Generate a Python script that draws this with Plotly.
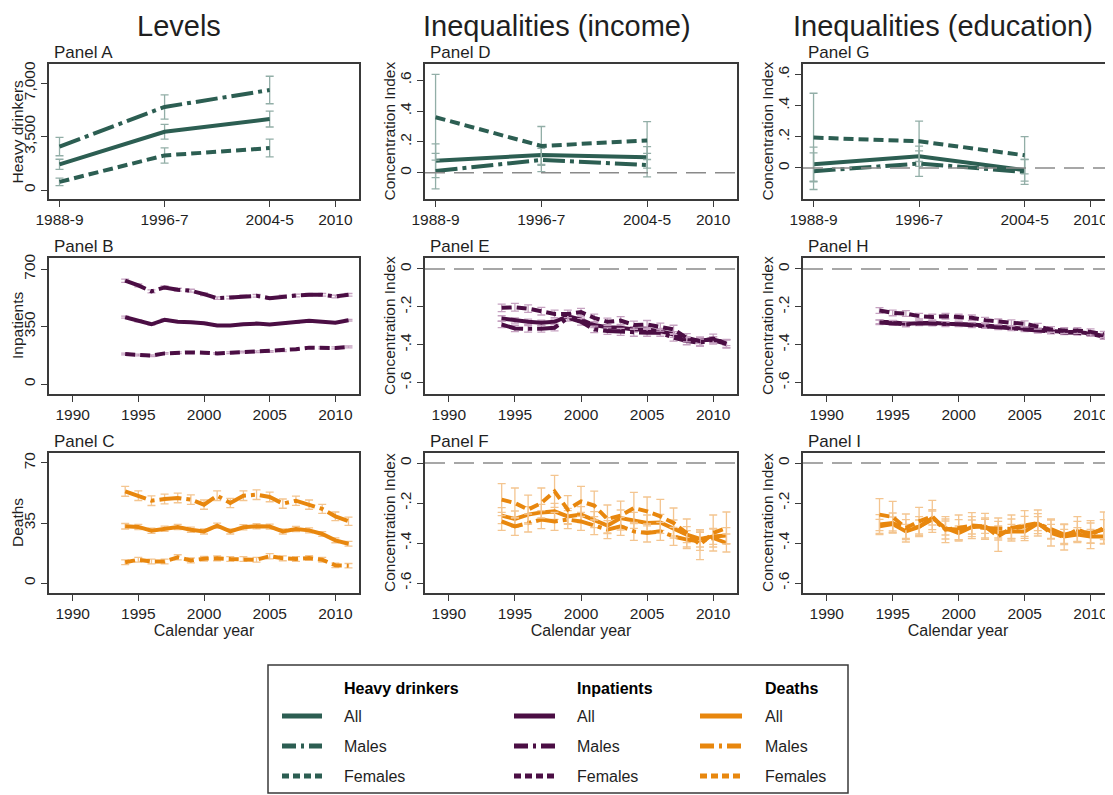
import plotly.graph_objects as go
from plotly.subplots import make_subplots

# ---------------- data ----------------
WAVES = [1989, 1997, 2005]
YEARS = [1994, 1995, 1996, 1997, 1998, 1999, 2000, 2001, 2002,
         2003, 2004, 2005, 2006, 2007, 2008, 2009, 2010, 2011]

WAVE_TICKS = [1989, 1997, 2005, 2010]
WAVE_TEXT = ["1988-9", "1996-7", "2004-5", "2010"]
YEAR_TICKS = [1990, 1995, 2000, 2005, 2010]

COL_TITLES = ["Levels", "Inequalities (income)", "Inequalities (education)"]
MEASURES = ["Heavy drinkers", "Inpatients", "Deaths"]
GROUPS = ["All", "Males", "Females"]

# Panel A - heavy drinkers (levels)
a_all = [1690, 3820, 4650]
a_all_err = [330, 480, 520]
a_male = [2850, 5440, 6550]
a_male_err = [600, 790, 900]
a_female = [540, 2270, 2750]
a_female_err = [240, 500, 580]

# Panel B - inpatients (levels)
b_all = [407, 385, 364, 391, 380, 376, 370, 356, 356,
         364, 368, 362, 368, 374, 385, 380, 374, 389]
b_all_err = [6, 6, 5, 6, 5, 5, 5, 5, 5, 5, 5, 5, 5, 5, 5, 5, 5, 5]
b_male = [629, 600, 564, 588, 574, 568, 547, 523, 527,
          535, 537, 523, 533, 539, 543, 543, 533, 543]
b_male_err = [10, 9, 9, 9, 9, 9, 8, 8, 8, 8, 8, 8, 8, 8, 8, 8, 8, 8]
b_female = [183, 177, 173, 187, 191, 193, 191, 187, 191,
            195, 197, 199, 203, 212, 222, 220, 220, 226]
b_female_err = [5, 5, 5, 5, 5, 5, 5, 5, 5, 5, 5, 5, 5, 5, 6, 6, 6, 6]

# Panel C - deaths (levels)
c_all = [33.1, 32.7, 30.5, 31.7, 32.7, 31.1, 30.1, 33.4, 30.1,
         32.5, 33.1, 32.9, 30.1, 31.5, 30.7, 28.6, 24.9, 22.9]
c_all_err = [1.6, 1.5, 1.5, 1.5, 1.5, 1.5, 1.5, 1.5, 1.5,
             1.5, 1.5, 1.5, 1.5, 1.5, 1.5, 1.4, 1.4, 1.4]
c_male = [53.5, 50.9, 48.0, 49.0, 49.6, 48.6, 45.7, 50.9, 46.7,
          50.9, 51.5, 50.2, 46.3, 48.0, 45.7, 43.2, 38.9, 36.0]
c_male_err = [2.9, 2.8, 2.8, 2.8, 2.8, 2.8, 2.7, 2.8, 2.7,
              2.8, 2.8, 2.8, 2.7, 2.7, 2.7, 2.6, 2.5, 2.4]
c_female = [12.1, 13.6, 12.6, 12.6, 15.0, 13.2, 14.2, 14.4, 14.0,
            14.0, 13.6, 15.6, 14.4, 14.0, 14.6, 13.6, 10.3, 10.1]
c_female_err = [1.4, 1.4, 1.4, 1.4, 1.5, 1.4, 1.4, 1.4, 1.4,
                1.4, 1.4, 1.5, 1.4, 1.4, 1.4, 1.4, 1.3, 1.3]

# Panel D - heavy drinkers, income concentration index
d_all = [0.078, 0.115, 0.100]
d_all_err = [0.109, 0.060, 0.070]
d_male = [0.011, 0.083, 0.050]
d_male_err = [0.115, 0.076, 0.076]
d_female = [0.360, 0.174, 0.209]
d_female_err = [0.278, 0.126, 0.123]

# Panel E - inpatients, income concentration index
e_all = [-0.261, -0.272, -0.279, -0.284, -0.279, -0.249, -0.267, -0.296, -0.307,
         -0.310, -0.319, -0.319, -0.328, -0.346, -0.372, -0.377, -0.372, -0.389]
e_all_err = [0.014, 0.014, 0.014, 0.014, 0.014, 0.014, 0.014, 0.014, 0.014,
             0.014, 0.014, 0.014, 0.014, 0.015, 0.015, 0.015, 0.015, 0.016]
e_male = [-0.293, -0.314, -0.316, -0.316, -0.310, -0.258, -0.279, -0.319, -0.328,
          -0.332, -0.337, -0.337, -0.337, -0.363, -0.381, -0.389, -0.377, -0.395]
e_male_err = [0.017, 0.017, 0.017, 0.017, 0.017, 0.017, 0.017, 0.017, 0.017,
              0.018, 0.018, 0.018, 0.018, 0.018, 0.019, 0.019, 0.019, 0.020]
e_female = [-0.205, -0.202, -0.209, -0.223, -0.237, -0.237, -0.228, -0.258, -0.279,
            -0.272, -0.296, -0.293, -0.307, -0.319, -0.363, -0.381, -0.367, -0.395]
e_female_err = [0.020, 0.020, 0.020, 0.020, 0.020, 0.020, 0.020, 0.020, 0.020,
                0.021, 0.021, 0.021, 0.021, 0.022, 0.022, 0.022, 0.023, 0.023]

# Panel F - deaths, income concentration index
f_all = [-0.263, -0.280, -0.258, -0.247, -0.242, -0.267, -0.258, -0.283, -0.313,
         -0.275, -0.287, -0.300, -0.297, -0.325, -0.358, -0.380, -0.367, -0.363]
f_all_err = [0.040, 0.040, 0.040, 0.040, 0.040, 0.040, 0.040, 0.040, 0.040,
             0.040, 0.040, 0.040, 0.040, 0.040, 0.040, 0.040, 0.040, 0.040]
f_male = [-0.292, -0.317, -0.300, -0.283, -0.292, -0.283, -0.292, -0.313, -0.333,
          -0.317, -0.342, -0.350, -0.342, -0.367, -0.383, -0.392, -0.375, -0.400]
f_male_err = [0.045, 0.045, 0.045, 0.045, 0.045, 0.045, 0.045, 0.045, 0.045,
              0.045, 0.045, 0.045, 0.045, 0.045, 0.045, 0.045, 0.045, 0.045]
f_female = [-0.183, -0.200, -0.233, -0.200, -0.142, -0.233, -0.192, -0.213, -0.280,
            -0.263, -0.225, -0.242, -0.267, -0.300, -0.350, -0.408, -0.350, -0.325]
f_female_err = [0.080, 0.075, 0.072, 0.075, 0.080, 0.070, 0.075, 0.072, 0.070,
                0.072, 0.078, 0.072, 0.085, 0.075, 0.070, 0.075, 0.090, 0.080]

# Panel G - heavy drinkers, education concentration index
g_all = [0.024, 0.075, -0.015]
g_all_err = [0.110, 0.065, 0.070]
g_male = [-0.021, 0.028, -0.026]
g_male_err = [0.118, 0.082, 0.080]
g_female = [0.195, 0.171, 0.081]
g_female_err = [0.285, 0.130, 0.120]

# Panel H - inpatients, education concentration index
h_all = [-0.279, -0.281, -0.289, -0.284, -0.284, -0.289, -0.289, -0.293, -0.298,
         -0.305, -0.310, -0.316, -0.323, -0.328, -0.332, -0.333, -0.340, -0.354]
h_all_err = [0.010, 0.010, 0.010, 0.010, 0.010, 0.010, 0.010, 0.010, 0.010,
             0.010, 0.010, 0.010, 0.010, 0.010, 0.010, 0.010, 0.010, 0.011]
h_male = [-0.282, -0.285, -0.293, -0.287, -0.288, -0.292, -0.292, -0.297, -0.301,
          -0.308, -0.313, -0.319, -0.326, -0.331, -0.335, -0.337, -0.343, -0.358]
h_male_err = [0.012, 0.012, 0.012, 0.012, 0.012, 0.012, 0.012, 0.012, 0.012,
              0.012, 0.012, 0.012, 0.012, 0.012, 0.012, 0.012, 0.013, 0.013]
h_female = [-0.219, -0.232, -0.235, -0.249, -0.254, -0.249, -0.254, -0.258, -0.270,
            -0.279, -0.284, -0.289, -0.302, -0.319, -0.325, -0.325, -0.332, -0.346]
h_female_err = [0.015, 0.015, 0.015, 0.015, 0.015, 0.015, 0.015, 0.015, 0.015,
                0.015, 0.015, 0.015, 0.015, 0.015, 0.015, 0.015, 0.016, 0.016]

# Panel I - deaths, education concentration index
i_all = [-0.317, -0.305, -0.342, -0.320, -0.275, -0.325, -0.350, -0.320, -0.317,
         -0.350, -0.342, -0.342, -0.303, -0.342, -0.367, -0.358, -0.367, -0.367]
i_all_err = [0.035, 0.035, 0.035, 0.035, 0.035, 0.035, 0.035, 0.035, 0.035,
             0.035, 0.035, 0.035, 0.035, 0.035, 0.035, 0.035, 0.035, 0.035]
i_male = [-0.308, -0.300, -0.333, -0.318, -0.283, -0.330, -0.333, -0.318, -0.325,
          -0.325, -0.330, -0.317, -0.303, -0.330, -0.358, -0.342, -0.350, -0.333]
i_male_err = [0.050, 0.050, 0.050, 0.050, 0.050, 0.050, 0.050, 0.050, 0.050,
              0.050, 0.050, 0.050, 0.050, 0.050, 0.050, 0.050, 0.050, 0.050]
i_female = [-0.258, -0.270, -0.325, -0.292, -0.267, -0.333, -0.325, -0.313, -0.317,
            -0.367, -0.325, -0.313, -0.300, -0.350, -0.370, -0.333, -0.358, -0.325]
i_female_err = [0.080, 0.078, 0.070, 0.070, 0.080, 0.065, 0.065, 0.065, 0.065,
                0.075, 0.065, 0.075, 0.065, 0.065, 0.065, 0.065, 0.070, 0.080]

# ---------------- styling ----------------
# the page body keeps its default 8px margin, so the figure is drawn 8px in
PAGE_W, PAGE_H, OFF = 1113, 795, 8
W, H = PAGE_W - OFF, PAGE_H - OFF
FONT = "Liberation Sans, Arial, sans-serif"
TXT = "#1f1f1f"
COLORS = {"Heavy drinkers": "#2c5e52", "Inpatients": "#4b0e44", "Deaths": "#e8870e"}
CI_COLORS = {"Heavy drinkers": "#92aea7", "Inpatients": "#c6a2c1", "Deaths": "#f4c590"}
DASH = {"All": "solid", "Males": "22px,5px,4px,5px", "Females": "10px,5px"}
LEG_DASH = {"All": "solid", "Males": "14px,5px,3px,5px", "Females": "7px,4px"}

PANEL_DATA = {
    (1, 1): ("Panel A", WAVES, [(a_all, a_all_err), (a_male, a_male_err), (a_female, a_female_err)]),
    (2, 1): ("Panel B", YEARS, [(b_all, b_all_err), (b_male, b_male_err), (b_female, b_female_err)]),
    (3, 1): ("Panel C", YEARS, [(c_all, c_all_err), (c_male, c_male_err), (c_female, c_female_err)]),
    (1, 2): ("Panel D", WAVES, [(d_all, d_all_err), (d_male, d_male_err), (d_female, d_female_err)]),
    (2, 2): ("Panel E", YEARS, [(e_all, e_all_err), (e_male, e_male_err), (e_female, e_female_err)]),
    (3, 2): ("Panel F", YEARS, [(f_all, f_all_err), (f_male, f_male_err), (f_female, f_female_err)]),
    (1, 3): ("Panel G", WAVES, [(g_all, g_all_err), (g_male, g_male_err), (g_female, g_female_err)]),
    (2, 3): ("Panel H", YEARS, [(h_all, h_all_err), (h_male, h_male_err), (h_female, h_female_err)]),
    (3, 3): ("Panel I", YEARS, [(i_all, i_all_err), (i_male, i_male_err), (i_female, i_female_err)]),
}

Y_RANGES = {
    (1, 1): [-580, 8250], (2, 1): [-60, 767], (3, 1): [-5.8, 75.8],
    (1, 2): [-0.17, 0.705], (2, 2): [-0.66, 0.058], (3, 2): [-0.65, 0.05],
    (1, 3): [-0.2, 0.668], (2, 3): [-0.66, 0.058], (3, 3): [-0.65, 0.05],
}
Y_TICKS = {
    (1, 1): ([0, 3500, 7000], ["0", "3,500", "7,000"]),
    (2, 1): ([0, 350, 700], ["0", "350", "700"]),
    (3, 1): ([0, 35, 70], ["0", "35", "70"]),
}
POS_CI = ([0, 0.2, 0.4, 0.6], ["0", ".2", ".4", ".6"])
NEG_CI = ([-0.6, -0.4, -0.2, 0], ["-.6", "-.4", "-.2", "0"])

# plot-area boxes, in page pixels
COL_PX = {1: (49, 359), 2: (425, 737), 3: (803, 1113)}
ROW_PX = {1: (64, 199), 2: (258, 394), 3: (453, 593)}
YTITLE_X = {1: 17, 2: 389, 3: 767}


def px(x):
    return (x - OFF) / W


def py(y):
    return 1 - (y - OFF) / H


fig = make_subplots(rows=3, cols=3)

for (r, c), (label, xs, series) in PANEL_DATA.items():
    measure = MEASURES[r - 1]
    for grp, (vals, err) in zip(GROUPS, series):
        fig.add_trace(go.Scatter(
            x=xs, y=vals, mode="lines", name=grp, showlegend=False,
            line=dict(color=COLORS[measure], width=4, dash=DASH[grp]),
            error_y=dict(type="data", array=err, color=CI_COLORS[measure],
                         thickness=1.3, width=4),
        ), row=r, col=c)
    if c > 1:
        fig.add_hline(y=0, row=r, col=c,
                      line=dict(color="#8a8a8a", width=1.5, dash="20px,9px"))

    x0, x1 = COL_PX[c]
    y0, y1 = ROW_PX[r]
    xr = [1988.2, 2011.8] if c < 3 else [1988.2, 2011.7]
    if xs is WAVES:
        xtv, xtt = WAVE_TICKS, WAVE_TEXT
    else:
        xtv, xtt = YEAR_TICKS, [str(v) for v in YEAR_TICKS]
    fig.update_xaxes(
        domain=[px(x0), min(px(x1), 1.0)], range=xr, tickvals=xtv, ticktext=xtt,
        automargin=False,
        showgrid=False, zeroline=False, showline=True, mirror=True,
        linecolor="#3a3a3a", linewidth=1.5, ticks="outside", ticklen=6,
        tickcolor="#3a3a3a", tickwidth=1.3,
        tickfont=dict(family=FONT, size=15.5, color=TXT),
        title=dict(text="Calendar year" if r == 3 else None,
                   font=dict(family=FONT, size=16, color=TXT), standoff=2),
        row=r, col=c)

    if c == 1:
        ytv, ytt = Y_TICKS[(r, c)]
        ytitle = measure
    else:
        ytv, ytt = POS_CI if r == 1 else NEG_CI
        ytitle = "Concentration Index"
    fig.update_yaxes(
        domain=[py(y1), py(y0)], range=Y_RANGES[(r, c)], tickvals=ytv, ticktext=ytt,
        automargin=False,
        showgrid=False, zeroline=False, showline=True, mirror=True,
        linecolor="#3a3a3a", linewidth=1.5, ticks="outside", ticklen=6,
        tickcolor="#3a3a3a", tickwidth=1.3, tickangle=-90,
        tickfont=dict(family=FONT, size=15.5, color=TXT),
        row=r, col=c)

    # y-axis title placed by hand so every column sits like the reference
    fig.add_annotation(text=ytitle, x=px(YTITLE_X[c]), y=py((y0 + y1) / 2),
                       xref="paper", yref="paper", textangle=-90,
                       xanchor="center", yanchor="middle", showarrow=False,
                       font=dict(family=FONT, size=15.5, color=TXT))

    fig.add_annotation(text=label, x=px(x0 + 3), y=py(y0 - 12), xref="paper", yref="paper",
                       xanchor="left", yanchor="middle", showarrow=False,
                       font=dict(family=FONT, size=17, color=TXT))

# column titles
for title, cx in zip(COL_TITLES, [179, 557, 943]):
    fig.add_annotation(text=title, x=px(cx), y=1.0, xref="paper", yref="paper",
                       xanchor="center", yanchor="top", showarrow=False,
                       font=dict(family=FONT, size=29, color=TXT))

# legend box (drawn by hand to mimic the three-column Stata legend)
shapes = [dict(type="rect", xref="paper", yref="paper",
               x0=px(268), x1=px(848), y0=py(793), y1=py(665),
               line=dict(color="#3a3a3a", width=1.5), fillcolor="rgba(0,0,0,0)")]
leg_cols = [(282, 322, 342), (514, 555, 575), (700, 742, 763)]
leg_rows = [716, 746, 776]
for measure, (sx0, sx1, tx) in zip(MEASURES, leg_cols):
    fig.add_annotation(text="<b>" + measure + "</b>", x=px(tx), y=py(688),
                       xref="paper", yref="paper", xanchor="left", yanchor="middle",
                       showarrow=False, font=dict(family=FONT, size=16, color="#000"))
    for grp, ly in zip(GROUPS, leg_rows):
        shapes.append(dict(type="line", xref="paper", yref="paper",
                           x0=px(sx0), x1=px(sx1), y0=py(ly), y1=py(ly),
                           line=dict(color=COLORS[measure], width=5, dash=LEG_DASH[grp])))
        fig.add_annotation(text=grp, x=px(tx), y=py(ly), xref="paper", yref="paper",
                           xanchor="left", yanchor="middle", showarrow=False,
                           font=dict(family=FONT, size=16, color=TXT))

fig.update_layout(
    width=W, height=H, margin=dict(l=0, r=0, t=0, b=0, autoexpand=False),
    paper_bgcolor="white", plot_bgcolor="white",
    shapes=list(fig.layout.shapes) + shapes,
    font=dict(family=FONT, color=TXT),
)

fig.write_html("out.html")
